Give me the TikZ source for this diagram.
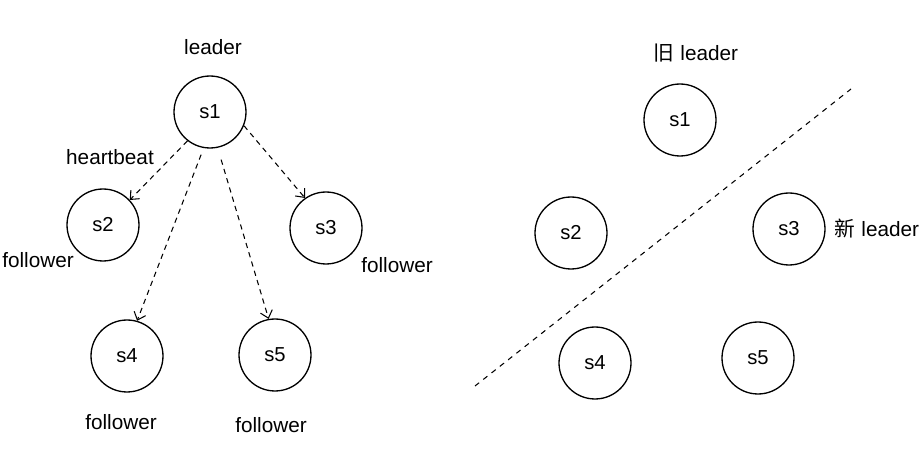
\documentclass[tikz,border=0pt]{standalone}
\usepackage{fontspec}
\setmainfont{Liberation Sans}
\newfontfamily\cjkfont{Noto Sans CJK SC}
\usetikzlibrary{arrows.meta}
\begin{document}
\begin{tikzpicture}[x=0.02cm,y=-0.02cm,
  srv/.style={circle,draw,line width=0.75pt,minimum size=1.44cm,inner sep=0pt,font=\fontsize{11.5}{13}\selectfont},
  lbl/.style={font=\fontsize{11.8}{14}\selectfont,inner sep=1pt},
  hb/.style={line width=0.6pt,dash pattern=on 3pt off 2.5pt,-{Straight Barb[length=4pt,width=7pt]}},
  split/.style={line width=0.6pt,dash pattern=on 3pt off 3pt}]
\useasboundingbox (0,0) rectangle (920,462);
% left
\node[srv] (a1) at (210,112) {s1};
\node[srv] (a2) at (103,225) {s2};
\node[srv] (a3) at (326,228) {s3};
\node[srv] (a4) at (127,356) {s4};
\node[srv] (a5) at (275,355) {s5};
\node[lbl] (lead) at (213,47) {leader};
\node[lbl] (hbt) at (110,157) {heartbeat};
\node[lbl] (f2) at (38,260) {follower};
\node[lbl] (f3) at (397,265) {follower};
\node[lbl] (f4) at (121,422) {follower};
\node[lbl] (f5) at (271,425) {follower};
\draw[hb] (a1.232) -- (a2.43);
\draw[hb] (a1.-22) -- (a3.125);
\draw[hb,shorten <=4pt] (a1.260) -- (a4.74);
\draw[hb,shorten <=7pt] (a1.282) -- (a5.100);
% right
\node[srv] (b1) at (680,120) {s1};
\node[srv] (b2) at (571,233) {s2};
\node[srv] (b3) at (789,229) {s3};
\node[srv] (b4) at (595,363) {s4};
\node[srv] (b5) at (758,358) {s5};
\node[lbl] (old) at (696,53) {{\cjkfont 旧} leader};
\node[lbl] (new) at (877,229) {{\cjkfont 新} leader};
\coordinate (c1) at (475,386);
\coordinate (c2) at (851,89);
\draw[split] (c1) -- (c2);
\end{tikzpicture}
\end{document}
